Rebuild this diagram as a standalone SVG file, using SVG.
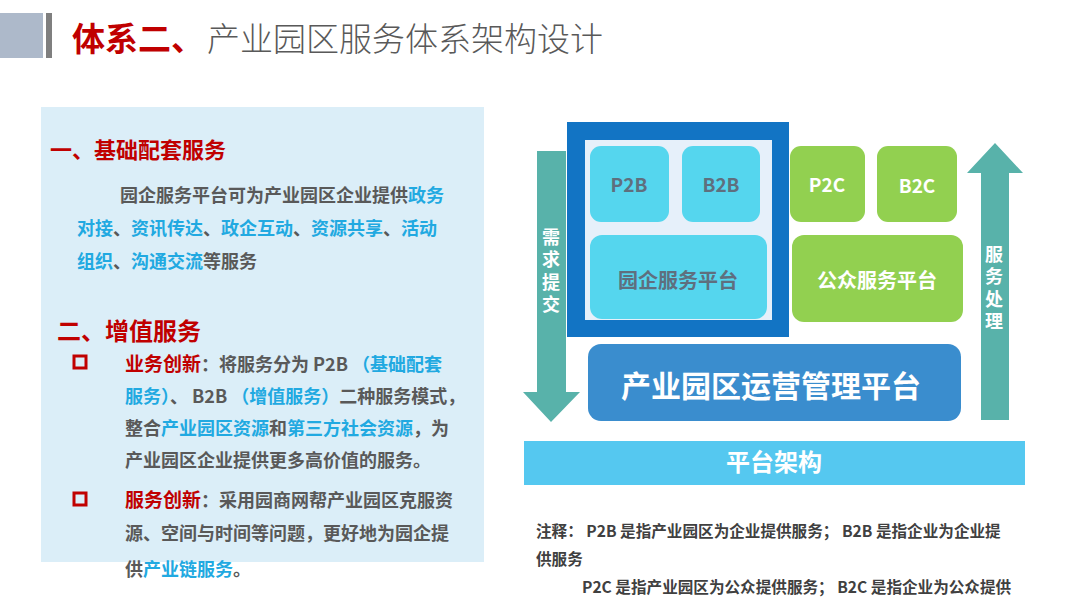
<svg xmlns="http://www.w3.org/2000/svg" width="1080" height="608" viewBox="0 0 1080 608">
<style>
text{font-family:"Noto Sans CJK SC","Liberation Sans",sans-serif;}
.red{fill:#C00000;font-weight:bold;}
.g{fill:#595959;font-weight:bold;}
.b{fill:#21A9E1;font-weight:bold;}
.body{font-size:18px;}
.wt{fill:#FFFFFF;font-weight:bold;text-anchor:middle;}
.vt{fill:#FFFFFF;font-weight:bold;font-size:18px;writing-mode:vertical-rl;text-orientation:upright;letter-spacing:4.5px;}
.gt{fill:#5F6F7E;font-weight:bold;text-anchor:middle;}
.note{fill:#404040;font-weight:bold;font-size:15.6px;}
</style>
<rect width="1080" height="608" fill="#FFFFFF"/>
<g id="title">
<rect x="0" y="13" width="43" height="45" fill="#ADB9CA"/>
<rect x="46" y="13" width="6" height="45" fill="#7F7F7F"/>
<text x="72" y="51" class="red" style="font-size:33px">体系二、</text>
<text x="207" y="51" style="font-size:33px;fill:#595959;font-weight:300">产业园区服务体系架构设计</text>
</g>
<g id="left-panel">
<rect x="41" y="107" width="443" height="455" fill="#DBEEF8"/>
<text x="50" y="158" class="red" style="font-size:22px">一、基础配套服务</text>
<text class="body" x="120" y="202"><tspan class="g">园企服务平台可为产业园区企业提供</tspan><tspan class="b">政务</tspan></text>
<text class="body" x="77" y="235"><tspan class="b">对接</tspan><tspan class="g">、</tspan><tspan class="b">资讯传达</tspan><tspan class="g">、</tspan><tspan class="b">政企互动</tspan><tspan class="g">、</tspan><tspan class="b">资源共享</tspan><tspan class="g">、</tspan><tspan class="b">活动</tspan></text>
<text class="body" x="77" y="268"><tspan class="b">组织</tspan><tspan class="g">、</tspan><tspan class="b">沟通交流</tspan><tspan class="g">等服务</tspan></text>
<text x="57" y="340" class="red" style="font-size:24px">二、增值服务</text>
<rect x="74" y="356" width="12" height="12" fill="none" stroke="#C00000" stroke-width="3"/>
<text class="body" x="125" y="371"><tspan class="red" style="font-size:19px">业务创新</tspan><tspan class="g">：将服务分为 P2B </tspan><tspan class="b">（基础配套</tspan></text>
<text class="body" x="125" y="403"><tspan class="b">服务）</tspan><tspan class="g">、 B2B </tspan><tspan class="b">（增值服务）</tspan><tspan class="g">二种服务模式，</tspan></text>
<text class="body" x="125" y="435"><tspan class="g">整合</tspan><tspan class="b">产业园区资源</tspan><tspan class="g">和</tspan><tspan class="b">第三方社会资源</tspan><tspan class="g">，为</tspan></text>
<text class="body" x="125" y="467"><tspan class="g">产业园区企业提供更多高价值的服务。</tspan></text>
<rect x="74" y="493" width="12" height="12" fill="none" stroke="#C00000" stroke-width="3"/>
<text class="body" x="125" y="507"><tspan class="red" style="font-size:19px">服务创新</tspan><tspan class="g">：采用园商网帮产业园区克服资</tspan></text>
<text class="body" x="125" y="540"><tspan class="g">源、空间与时间等问题，更好地为园企提</tspan></text>
<text class="body" x="125" y="576"><tspan class="g">供</tspan><tspan class="b">产业链服务</tspan><tspan class="g">。</tspan></text>
</g>
<g id="connectors">
<polygon id="arrow-down" points="537,151 566,151 566,392 580,392 551,422 523,392 537,392" fill="#58B2AA"/>
<polygon id="arrow-up" points="981,420 1009,420 1009,173 1023,173 995,143 967,173 981,173" fill="#58B2AA"/>
</g>
<g id="label-demand">
<text class="vt" x="551" y="228">需求提交</text>
</g>
<g id="label-service">
<text class="vt" x="994" y="245">服务处理</text>
</g>
<g id="frame">
<rect x="567" y="122" width="222" height="215" fill="#1274C4"/>
<rect x="585" y="140" width="187" height="180" fill="#E6F0FA"/>
</g>
<g id="p2b">
<rect x="590" y="146" width="79" height="76" rx="11" fill="#55D6EE"/>
<text class="gt" style="font-size:19px" x="629" y="192">P2B</text>
</g>
<g id="b2b">
<rect x="682" y="146" width="78" height="76" rx="11" fill="#55D6EE"/>
<text class="gt" style="font-size:19px" x="721" y="192">B2B</text>
</g>
<g id="yuanqi">
<rect x="590" y="235" width="177" height="84" rx="12" fill="#55D6EE"/>
<text class="gt" style="font-size:20px" x="678" y="288">园企服务平台</text>
</g>
<g id="p2c">
<rect x="790" y="146" width="75" height="76" rx="11" fill="#92D050"/>
<text class="wt" style="font-size:19px" x="827" y="192">P2C</text>
</g>
<g id="b2c">
<rect x="877" y="146" width="80" height="76" rx="11" fill="#92D050"/>
<text class="wt" style="font-size:19px" x="917" y="193">B2C</text>
</g>
<g id="public">
<rect x="792" y="235" width="171" height="87" rx="12" fill="#92D050"/>
<text class="wt" style="font-size:20px" x="877" y="288">公众服务平台</text>
</g>
<g id="ops">
<rect x="588" y="344" width="373" height="77" rx="13" fill="#3A8DCE"/>
<text class="wt" style="font-size:30px" x="771" y="397">产业园区运营管理平台</text>
</g>
<g id="arch">
<rect x="524" y="441" width="501" height="44" fill="#55C8F0"/>
<text class="wt" style="font-size:24px" x="774" y="471">平台架构</text>
</g>
<g id="notes">
<text class="note" x="536" y="537">注释： P2B 是指产业园区为企业提供服务； B2B 是指企业为企业提</text>
<text class="note" x="536" y="565">供服务</text>
<text class="note" x="582" y="593">P2C 是指产业园区为公众提供服务； B2C 是指企业为公众提供</text>
</g>
</svg>
